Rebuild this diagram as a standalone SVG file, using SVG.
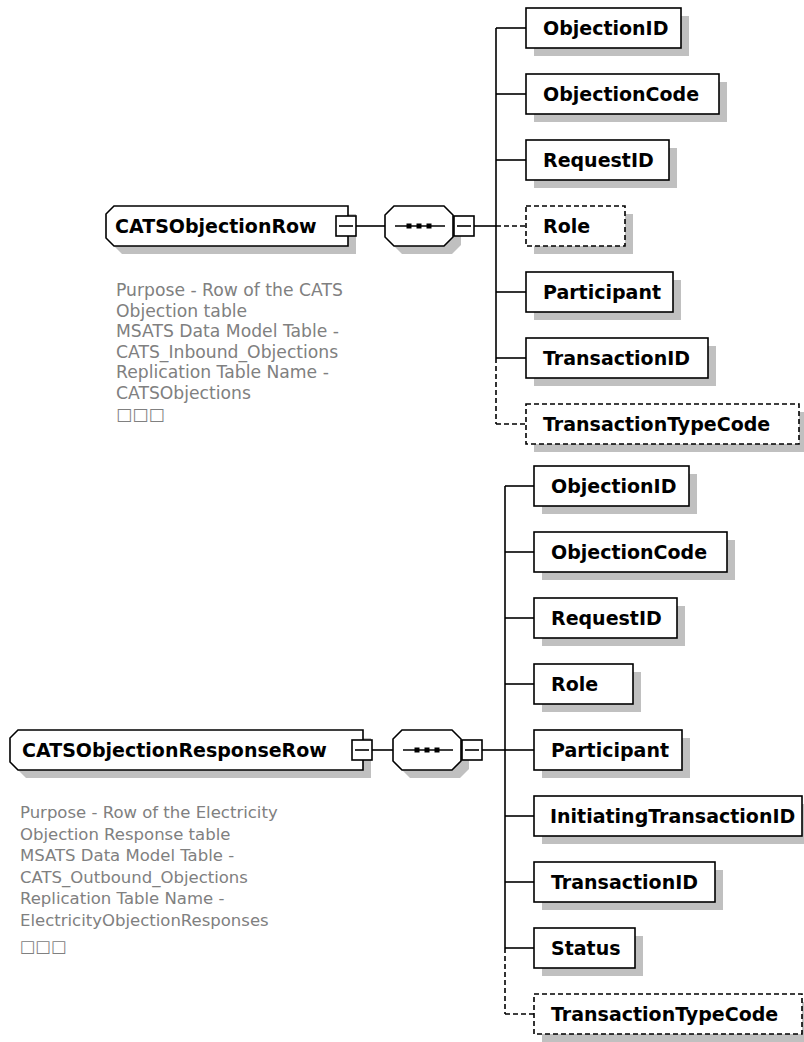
<svg xmlns="http://www.w3.org/2000/svg" width="804" height="1042" viewBox="0 0 804 1042">
<style>
.bg{fill:#fff}
.sh{fill:#c0c0c0}
.box{fill:#fff;stroke:#000;stroke-width:1.6}
.opt{stroke-dasharray:5 3}
.lbl{font-family:"DejaVu Sans",sans-serif;font-weight:bold;font-size:19px;fill:#000}
.desc{font-family:"DejaVu Sans",sans-serif;font-size:16.5px;fill:#808080}
.desc1{font-size:17.2px}
.conn{stroke:#000;stroke-width:1.6;fill:none}
.dash{stroke-dasharray:5 3}
.dot{fill:#000}
</style>
<rect class="bg" x="0" y="0" width="804" height="1042"/>

<g id="connectors">
  <!-- top -->
  <line class="conn" x1="356" y1="226" x2="385" y2="226"/>
  <line class="conn" x1="474" y1="226" x2="496" y2="226"/>
  <line class="conn" x1="496" y1="28" x2="496" y2="358"/>
  <line class="conn dash" x1="496" y1="358" x2="496" y2="424"/>
  <line class="conn" x1="496" y1="28" x2="526" y2="28"/>
  <line class="conn" x1="496" y1="94" x2="526" y2="94"/>
  <line class="conn" x1="496" y1="160" x2="526" y2="160"/>
  <line class="conn dash" x1="496" y1="226" x2="526" y2="226"/>
  <line class="conn" x1="496" y1="292" x2="526" y2="292"/>
  <line class="conn" x1="496" y1="358" x2="526" y2="358"/>
  <line class="conn dash" x1="496" y1="424" x2="526" y2="424"/>
  <!-- bottom -->
  <line class="conn" x1="372" y1="750" x2="393" y2="750"/>
  <line class="conn" x1="482" y1="750" x2="505" y2="750"/>
  <line class="conn" x1="505" y1="486" x2="505" y2="948"/>
  <line class="conn dash" x1="505" y1="948" x2="505" y2="1014"/>
  <line class="conn" x1="505" y1="486" x2="534" y2="486"/>
  <line class="conn" x1="505" y1="552" x2="534" y2="552"/>
  <line class="conn" x1="505" y1="618" x2="534" y2="618"/>
  <line class="conn" x1="505" y1="684" x2="534" y2="684"/>
  <line class="conn" x1="505" y1="750" x2="534" y2="750"/>
  <line class="conn" x1="505" y1="816" x2="534" y2="816"/>
  <line class="conn" x1="505" y1="882" x2="534" y2="882"/>
  <line class="conn" x1="505" y1="948" x2="534" y2="948"/>
  <line class="conn dash" x1="505" y1="1014" x2="534" y2="1014"/>
</g>

<!-- TOP DIAGRAM -->
<g id="CATSObjectionRow">
  <path class="sh" d="M122,214 H356 V254 H122 L114,246 V222 Z"/>
  <path class="box" d="M114,206 H348 V246 H114 L106,238 V214 Z"/>
  <text class="lbl" x="115" y="233">CATSObjectionRow</text>
  <rect class="box" x="336" y="216" width="20" height="20"/>
  <line class="conn" x1="339" y1="226" x2="353" y2="226"/>
  <text class="desc desc1" x="116" y="296">Purpose - Row of the CATS<tspan x="116" dy="20.5">Objection table</tspan><tspan x="116" dy="20.5">MSATS Data Model Table -</tspan><tspan x="116" dy="20.5">CATS_Inbound_Objections</tspan><tspan x="116" dy="20.5">Replication Table Name -</tspan><tspan x="116" dy="20.5">CATSObjections</tspan><tspan x="116" dy="21">□□□</tspan></text>
</g>

<g id="sequence1">
  <path class="sh" d="M402,214 H452 L461,223 V245 L452,254 H402 L393,245 V223 Z"/>
  <path class="box" d="M394,206 H444 L453,215 V237 L444,246 H394 L385,237 V215 Z"/>
  <line class="conn" x1="395" y1="226" x2="445" y2="226"/>
  <rect class="dot" x="406.5" y="223.5" width="5" height="5"/>
  <rect class="dot" x="416.5" y="223.5" width="5" height="5"/>
  <rect class="dot" x="426.5" y="223.5" width="5" height="5"/>
  <rect class="box" x="454" y="216" width="20" height="20"/>
  <line class="conn" x1="457" y1="226" x2="471" y2="226"/>
</g>

<g id="t-ObjectionID">
  <rect class="sh" x="534" y="16" width="155" height="40"/>
  <rect class="box" x="526" y="8" width="155" height="40"/>
  <text class="lbl" x="543" y="35">ObjectionID</text>
</g>
<g id="t-ObjectionCode">
  <rect class="sh" x="534" y="82" width="193" height="40"/>
  <rect class="box" x="526" y="74" width="193" height="40"/>
  <text class="lbl" x="543" y="101">ObjectionCode</text>
</g>
<g id="t-RequestID">
  <rect class="sh" x="534" y="148" width="143" height="40"/>
  <rect class="box" x="526" y="140" width="143" height="40"/>
  <text class="lbl" x="543" y="167">RequestID</text>
</g>
<g id="t-Role">
  <rect class="sh" x="534" y="214" width="99" height="40"/>
  <rect class="box opt" x="526" y="206" width="99" height="40"/>
  <text class="lbl" x="543" y="233">Role</text>
</g>
<g id="t-Participant">
  <rect class="sh" x="534" y="280" width="147" height="40"/>
  <rect class="box" x="526" y="272" width="147" height="40"/>
  <text class="lbl" x="543" y="299">Participant</text>
</g>
<g id="t-TransactionID">
  <rect class="sh" x="534" y="346" width="182" height="40"/>
  <rect class="box" x="526" y="338" width="182" height="40"/>
  <text class="lbl" x="543" y="365">TransactionID</text>
</g>
<g id="t-TransactionTypeCode">
  <rect class="sh" x="534" y="412" width="273" height="40"/>
  <rect class="box opt" x="526" y="404" width="273" height="40"/>
  <text class="lbl" x="543" y="431">TransactionTypeCode</text>
</g>

<!-- BOTTOM DIAGRAM -->
<g id="CATSObjectionResponseRow">
  <path class="sh" d="M26,738 H371 V778 H26 L18,770 V746 Z"/>
  <path class="box" d="M18,730 H363 V770 H18 L10,762 V738 Z"/>
  <text class="lbl" x="22" y="757">CATSObjectionResponseRow</text>
  <rect class="box" x="352" y="740" width="20" height="20"/>
  <line class="conn" x1="355" y1="750" x2="369" y2="750"/>
  <text class="desc" x="20" y="818">Purpose - Row of the Electricity<tspan x="20" dy="21.5">Objection Response table</tspan><tspan x="20" dy="21.5">MSATS Data Model Table -</tspan><tspan x="20" dy="21.5">CATS_Outbound_Objections</tspan><tspan x="20" dy="21.5">Replication Table Name -</tspan><tspan x="20" dy="21.5">ElectricityObjectionResponses</tspan><tspan x="20" dy="26">□□□</tspan></text>
</g>

<g id="sequence2">
  <path class="sh" d="M410,738 H460 L469,747 V769 L460,778 H410 L401,769 V747 Z"/>
  <path class="box" d="M402,730 H452 L461,739 V761 L452,770 H402 L393,761 V739 Z"/>
  <line class="conn" x1="403" y1="750" x2="453" y2="750"/>
  <rect class="dot" x="414.5" y="747.5" width="5" height="5"/>
  <rect class="dot" x="424.5" y="747.5" width="5" height="5"/>
  <rect class="dot" x="434.5" y="747.5" width="5" height="5"/>
  <rect class="box" x="462" y="740" width="20" height="20"/>
  <line class="conn" x1="465" y1="750" x2="479" y2="750"/>
</g>

<g id="b-ObjectionID">
  <rect class="sh" x="542" y="474" width="155" height="40"/>
  <rect class="box" x="534" y="466" width="155" height="40"/>
  <text class="lbl" x="551" y="493">ObjectionID</text>
</g>
<g id="b-ObjectionCode">
  <rect class="sh" x="542" y="540" width="193" height="40"/>
  <rect class="box" x="534" y="532" width="193" height="40"/>
  <text class="lbl" x="551" y="559">ObjectionCode</text>
</g>
<g id="b-RequestID">
  <rect class="sh" x="542" y="606" width="143" height="40"/>
  <rect class="box" x="534" y="598" width="143" height="40"/>
  <text class="lbl" x="551" y="625">RequestID</text>
</g>
<g id="b-Role">
  <rect class="sh" x="542" y="672" width="99" height="40"/>
  <rect class="box" x="534" y="664" width="99" height="40"/>
  <text class="lbl" x="551" y="691">Role</text>
</g>
<g id="b-Participant">
  <rect class="sh" x="542" y="738" width="148" height="40"/>
  <rect class="box" x="534" y="730" width="148" height="40"/>
  <text class="lbl" x="551" y="757">Participant</text>
</g>
<g id="b-InitiatingTransactionID">
  <rect class="sh" x="542" y="804" width="268" height="40"/>
  <rect class="box" x="534" y="796" width="268" height="40"/>
  <text class="lbl" x="550" y="823">InitiatingTransactionID</text>
</g>
<g id="b-TransactionID">
  <rect class="sh" x="542" y="870" width="181" height="40"/>
  <rect class="box" x="534" y="862" width="181" height="40"/>
  <text class="lbl" x="551" y="889">TransactionID</text>
</g>
<g id="b-Status">
  <rect class="sh" x="542" y="936" width="101" height="40"/>
  <rect class="box" x="534" y="928" width="101" height="40"/>
  <text class="lbl" x="551" y="955">Status</text>
</g>
<g id="b-TransactionTypeCode">
  <rect class="sh" x="542" y="1002" width="270" height="40"/>
  <rect class="box opt" x="534" y="994" width="268" height="40"/>
  <text class="lbl" x="551" y="1021">TransactionTypeCode</text>
</g>
</svg>
